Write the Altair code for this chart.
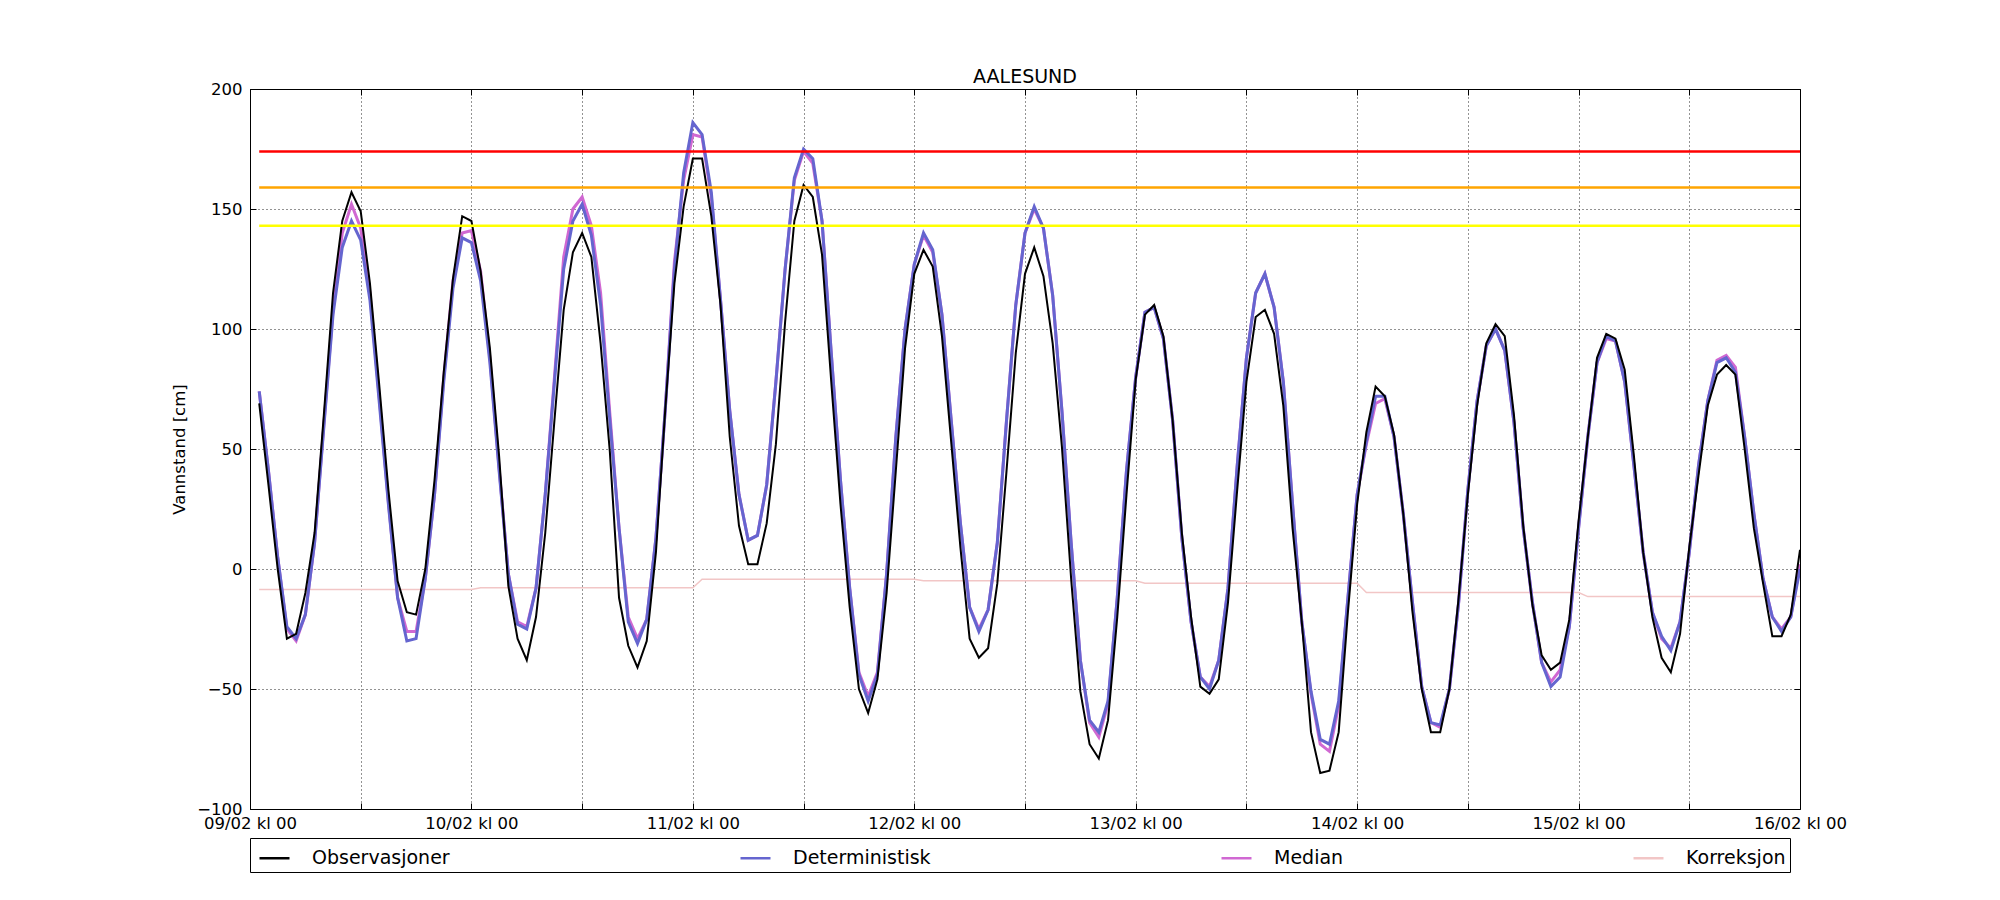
import altair as alt
import pandas as pd

# ---------------- data (hourly, 09/02 01:00 -> 16/02 00:00) ----------------
hours = list(range(1, 169))

obs = [
    69, 35, 0, -29, -27, -10, 15, 64, 115, 145, 157, 149,
    119, 77, 33, -5, -18, -19, 0, 37, 82, 121, 147, 145,
    124, 92, 47, -7, -29, -38, -20, 15, 62, 108, 132, 140,
    130, 94, 49, -12, -32, -41, -30, 7, 66, 119, 151, 171,
    171, 147, 110, 55, 18, 2, 2, 19, 52, 103, 145, 160,
    155, 131, 78, 27, -16, -50, -60, -46, -10, 41, 92, 123,
    133, 126, 97, 53, 9, -29, -37, -33, -6, 41, 90, 123,
    134, 122, 94, 51, -4, -51, -73, -79, -63, -20, 31, 79,
    106, 110, 97, 62, 15, -20, -49, -52, -46, -14, 33, 78,
    105, 108, 98, 68, 17, -22, -68, -85, -84, -68, -18, 27,
    57, 76, 72, 56, 23, -18, -50, -68, -68, -50, -12, 31,
    68, 94, 102, 97, 64, 18, -15, -36, -42, -39, -21, 20,
    55, 88, 98, 96, 83, 47, 7, -20, -37, -43, -27, 9,
    39, 68, 81, 85, 81, 50, 17, -6, -28, -28, -19, 8,
]

det = [
    74, 41, 5, -24, -29, -19, 11, 59, 106, 134, 145, 137,
    112, 70, 27, -12, -30, -29, -4, 31, 78, 117, 138, 136,
    120, 86, 41, -2, -23, -25, -8, 31, 78, 125, 145, 152,
    139, 110, 62, 17, -22, -31, -21, 13, 66, 125, 165, 186,
    181, 157, 112, 66, 31, 12, 14, 35, 78, 125, 163, 175,
    171, 145, 90, 37, -8, -44, -55, -44, -2, 55, 100, 127,
    140, 133, 106, 62, 19, -16, -26, -17, 11, 62, 110, 140,
    151, 142, 114, 66, 11, -38, -63, -68, -55, -12, 41, 80,
    107, 109, 96, 62, 13, -22, -45, -50, -38, -8, 43, 88,
    115, 123, 109, 78, 27, -22, -51, -71, -73, -55, -12, 31,
    53, 72, 72, 55, 23, -14, -49, -64, -65, -50, -14, 33,
    70, 93, 100, 91, 61, 17, -14, -39, -49, -45, -24, 17,
    55, 86, 97, 95, 78, 43, 7, -18, -28, -34, -22, 7,
    43, 70, 86, 88, 82, 55, 23, -4, -20, -26, -20, 0,
]

med = [
    74, 41, 5, -25, -30, -19, 11, 60, 108, 140, 152, 142,
    115, 72, 28, -12, -26, -26, -4, 31, 80, 120, 140, 141,
    124, 88, 42, -2, -22, -24, -8, 31, 80, 130, 150, 155,
    143, 115, 65, 17, -20, -29, -21, 13, 66, 128, 162, 181,
    180, 155, 112, 66, 31, 12, 14, 35, 78, 125, 162, 174,
    169, 145, 90, 37, -8, -43, -53, -43, -2, 55, 100, 127,
    139, 132, 106, 62, 19, -16, -25, -17, 11, 62, 110, 140,
    150, 142, 114, 66, 11, -38, -64, -70, -56, -12, 41, 80,
    107, 109, 96, 62, 13, -22, -45, -49, -38, -8, 43, 88,
    115, 123, 109, 78, 27, -22, -52, -73, -76, -57, -12, 31,
    52, 69, 71, 55, 23, -14, -49, -64, -66, -50, -14, 33,
    70, 93, 100, 91, 61, 17, -14, -39, -47, -42, -24, 17,
    55, 86, 96, 95, 78, 43, 7, -18, -29, -33, -22, 7,
    43, 70, 87, 89, 84, 55, 23, -4, -20, -25, -20, 2,
]

kor_hours = [1, 24, 25, 48, 49, 72, 73, 96, 97, 120, 121, 144, 145, 168]
kor = [-8.5, -8.5, -7.8, -7.8, -4.3, -4.3, -4.9, -4.9, -5.9, -5.9, -9.8, -9.8, -11.5, -11.5]

series_names = ["Observasjoner", "Deterministisk", "Median", "Korreksjon"]
threshold_names = ["rød", "oransje", "gul"]
threshold_values = [174, 159, 143]
threshold_start_hour = 1
threshold_end_hour = 168

y_ticks = [-100, -50, 0, 50, 100, 150, 200]

# ---------------- styles ----------------
series_colors = ["#000000", "#6565cf", "#d068d2", "#f2c6c6"]
threshold_colors = ["#ff0000", "#ffa500", "#ffff00"]
FONT = "DejaVu Sans"

t0 = pd.Timestamp("2024-02-09 00:00")


def to_times(hs):
    return [t0 + pd.Timedelta(hours=h) for h in hs]


df_obs = pd.DataFrame({"tid": to_times(hours), "vannstand": obs, "serie": series_names[0]})
df_det = pd.DataFrame({"tid": to_times(hours), "vannstand": det, "serie": series_names[1]})
df_med = pd.DataFrame({"tid": to_times(hours), "vannstand": med, "serie": series_names[2]})
df_kor = pd.DataFrame({"tid": to_times(kor_hours), "vannstand": kor, "serie": series_names[3]})
df_thr = pd.DataFrame({
    "navn": threshold_names,
    "niva": threshold_values,
    "start": to_times([threshold_start_hour] * 3),
    "slutt": to_times([threshold_end_hour] * 3),
})

x_scale = alt.Scale(
    domain=[alt.DateTime(year=2024, month=2, date=9, hours=0),
            alt.DateTime(year=2024, month=2, date=16, hours=0)],
    nice=False,
)
y_scale = alt.Scale(domain=[-100, 200], nice=False, zero=False)
color_scale = alt.Scale(domain=series_names, range=series_colors)

tick_times = [alt.DateTime(year=2024, month=2, date=9 + i // 2, hours=12 * (i % 2)) for i in range(15)]

inward = {"expr": "-6"}

x_axis = alt.Axis(
    values=tick_times,
    labelExpr="hours(datum.value) == 0 ? timeFormat(datum.value, '%d/%m kl %H') : ''",
    title=None, grid=True, gridDash=[1, 3], gridColor="#000000", gridOpacity=0.85, gridWidth=1,
    domain=False, ticks=True, tickSize=inward, tickColor="#000000", tickWidth=1,
    labelFont=FONT, labelFontSize=16.5, labelColor="#000000", labelPadding=12,
    labelFlush=False, labelOverlap=False, orient="bottom",
)
y_axis = alt.Axis(
    values=y_ticks, format="d",
    title="Vannstand [cm]", titleFont=FONT, titleFontSize=16.5, titleFontWeight="normal",
    titleColor="#000000", titlePadding=9,
    grid=True, gridDash=[1, 3], gridColor="#000000", gridOpacity=0.85, gridWidth=1,
    domain=False, ticks=True, tickSize=inward, tickColor="#000000", tickWidth=1,
    labelFont=FONT, labelFontSize=16.5, labelColor="#000000", labelPadding=14,
    labelFlush=False, labelOverlap=False, orient="left",
)
x_axis_top = alt.Axis(
    values=tick_times, labels=False, title=None, grid=False, domain=False,
    ticks=True, tickSize=inward, tickColor="#000000", tickWidth=1, orient="top",
)
y_axis_right = alt.Axis(
    values=y_ticks, labels=False, title=None, grid=False, domain=False,
    ticks=True, tickSize=inward, tickColor="#000000", tickWidth=1, orient="right",
)

legend = alt.Legend(
    title=None, orient="none", legendX=0, legendY=749, direction="horizontal", columns=4,
    columnPadding=284, symbolType="stroke", symbolSize=900, symbolStrokeWidth=2.5,
    symbolOffset=4.5,
    labelFont=FONT, labelFontSize=19, labelColor="#000000", labelOffset=21,
    labelBaseline="middle", padding=3.5, strokeColor="#000000", fillColor="#ffffff",
)


def series_layer(df, width, axes=False):
    return alt.Chart(df).mark_line(strokeWidth=width, clip=True).encode(
        x=alt.X("tid:T", scale=x_scale, axis=x_axis if axes else None),
        y=alt.Y("vannstand:Q", scale=y_scale, axis=y_axis if axes else None),
        color=alt.Color("serie:N", scale=color_scale, legend=legend),
    )


kor_line = series_layer(df_kor, 1.5)
med_line = series_layer(df_med, 3)
det_line = series_layer(df_det, 3)
obs_line = series_layer(df_obs, 2, axes=True)

thr_rules = alt.Chart(df_thr).mark_rule(strokeWidth=2.5).encode(
    x=alt.X("start:T", scale=x_scale, axis=x_axis_top),
    x2="slutt:T",
    y=alt.Y("niva:Q", scale=y_scale, axis=y_axis_right),
    stroke=alt.Stroke("navn:N", scale=alt.Scale(domain=threshold_names, range=threshold_colors), legend=None),
)

chart = (
    alt.layer(kor_line, med_line, det_line, obs_line, thr_rules)
    .resolve_axis(x="independent", y="independent")
    .properties(
        width=1550,
        height=720,
        title=alt.TitleParams(
            "AALESUND", font=FONT, fontSize=19, fontWeight="normal", color="#000000",
            anchor="middle", frame="group", offset=6, dy=27, baseline="alphabetic",
        ),
        autosize=alt.AutoSizeParams(type="none"),
        padding={"left": 242, "top": 81, "right": 60, "bottom": 80},
    )
    .configure(font=FONT)
    .configure_view(stroke="#000000", strokeWidth=1)
)

chart.save("out.html", embed_options={"renderer": "svg", "actions": False})
